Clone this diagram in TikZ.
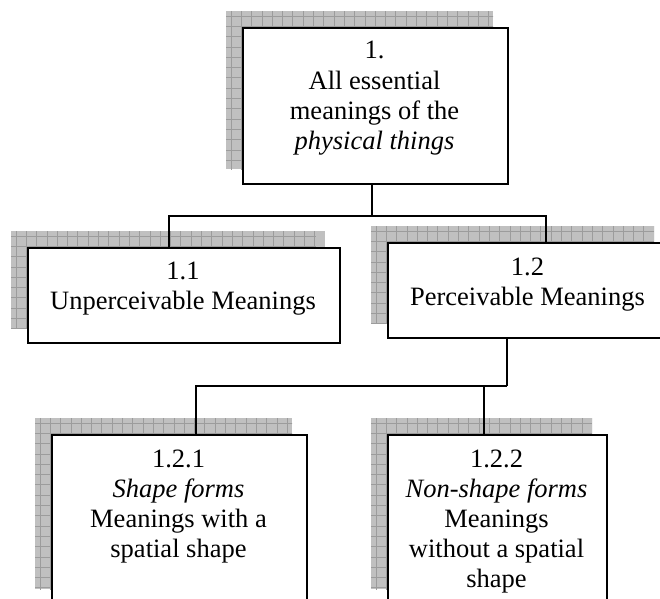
\documentclass[tikz,border=0pt]{standalone}
\usepackage{fontspec}
\setmainfont{Liberation Serif}
\usetikzlibrary{backgrounds}
\definecolor{shadowgray}{HTML}{C0C0C0}
\definecolor{gridgray}{HTML}{9C9C9C}
\tikzset{
  box/.style={draw, line width=2pt, fill=white, inner sep=0pt, anchor=north west},
  txt/.style={align=center, inner sep=0pt, anchor=north, font=\fontsize{26.5}{30}\selectfont},
  wire/.style={line width=2pt},
  gridline/.style={draw=gridgray, line width=0.7pt},
}
\begin{document}
\begin{tikzpicture}[x=1pt,y=-1pt]
\useasboundingbox (0,0) rectangle (660,598);
\clip (0,0) rectangle (660,598);

% boxes
\node[box, minimum width=265pt, minimum height=156pt] (b1)   at (242,27)  {};
\node[box, minimum width=312pt, minimum height=95pt]  (b11)  at (27,247)  {};
\node[box, minimum width=281pt, minimum height=95pt]  (b12)  at (387,242) {};
\node[box, minimum width=255pt, minimum height=169pt] (b121) at (51,434)  {};
\node[box, minimum width=219pt, minimum height=169pt] (b122) at (387,434) {};

% labels
\node[txt] (t1)   at (374.5,41.3) {1.\\All essential\\meanings of the\\\textit{physical things}};
\node[txt] (t11)  at (183,261.3)  {1.1\\Unperceivable Meanings};
\node[txt] (t12)  at (527.5,257.3){1.2\\Perceivable Meanings};
\node[txt] (t121) at (178.5,449.3){1.2.1\\\textit{Shape forms}\\Meanings with a\\spatial shape};
\node[txt] (t122) at (496.5,449.3){1.2.2\\\textit{Non-shape forms}\\Meanings\\without a spatial\\shape};

% connectors
\coordinate (bus1) at (372,216);
\draw[wire] (b1.south -| bus1) -- (bus1);
\draw[wire] ([xshift=-15pt]b11.north) |- (bus1) -| ([xshift=17pt]b12.north);

\coordinate (bus2) at (507,386);
\draw[wire] (b12.south -| bus2) -- (bus2);
\draw[wire] ([xshift=16.5pt]b121.north) |- (bus2);
\draw[wire] ([xshift=-13.5pt]b122.north) -- ++(0,-48);

% hatched drop shadows behind the boxes
\begin{pgfonlayer}{background}
\foreach \n in {b1,b11,b12,b121,b122} {
  \begin{scope}
    \clip ([shift={(-16,-16)}]\n.south west) rectangle ([shift={(-16,-16)}]\n.north east);
    \fill[fill=shadowgray] ([shift={(-16,-16)}]\n.south west) rectangle ([shift={(-16,-16)}]\n.north east);
    \begin{scope}[shift={([shift={(-11,-11)}]\n.north west)}]
      \draw[gridline, step=10.3pt] (-5,-5) grid (300,200);
    \end{scope}
  \end{scope}
}
\end{pgfonlayer}
\end{tikzpicture}
\end{document}
